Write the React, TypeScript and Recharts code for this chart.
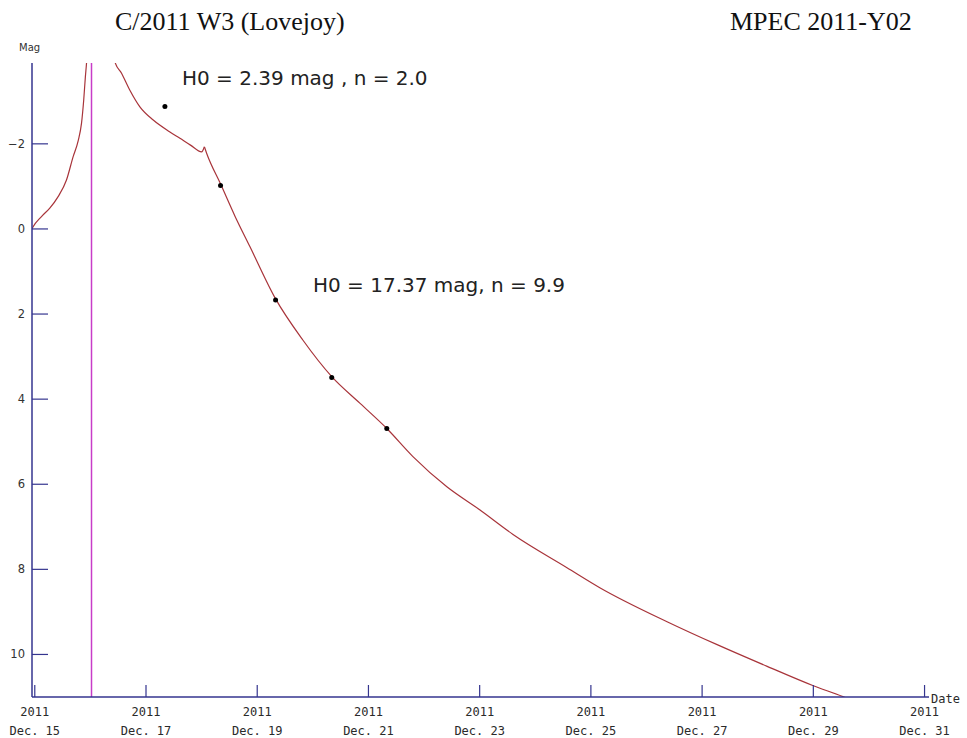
import React from "react";
import { ComposedChart, Line, Scatter, XAxis, YAxis, ReferenceLine } from "recharts";

// Fitted light curve before perihelion (date in Dec. 2011, magnitude)
const preDates = [14.95, 14.97, 15.12, 15.27, 15.42, 15.57, 15.69, 15.78, 15.84, 15.88, 15.91, 15.93, 15.95];
const preMags = [0.0, -0.05, -0.29, -0.49, -0.76, -1.15, -1.7, -2.07, -2.48, -3.03, -3.58, -3.89, -4.3];

// Fitted light curve after perihelion, first fit (up to the switch-over)
const postEarlyDates = [16.42, 16.44, 16.56, 16.71, 16.89, 17.13, 17.43, 17.61, 17.8, 18.0, 18.05];
const postEarlyMags = [-4.1, -3.93, -3.66, -3.26, -2.87, -2.56, -2.28, -2.13, -1.97, -1.81, -1.93];

// Fitted light curve after perihelion, second fit
const postLateDates = [18.05, 18.09, 18.35, 18.6, 18.87, 19.32, 19.82, 20.34, 20.85, 21.33, 21.8, 22.41, 23.0, 23.6, 24.57, 25.16, 26.37, 27.27, 28.17, 28.99, 29.53, 29.7];
const postLateMags = [-1.93, -1.78, -1.03, -0.3, 0.42, 1.62, 2.61, 3.47, 4.1, 4.69, 5.35, 6.06, 6.6, 7.18, 7.96, 8.43, 9.23, 9.77, 10.28, 10.73, 10.99, 11.08];

// Observations
const obsDates = [17.34, 18.34, 19.33, 20.34, 21.33];
const obsMags = [-2.88, -1.02, 1.67, 3.49, 4.69];

const perihelionDate = 16.02;

const xTicks = [15, 17, 19, 21, 23, 25, 27, 29, 31];
const xTickYears = ["2011", "2011", "2011", "2011", "2011", "2011", "2011", "2011", "2011"];
const xTickDays = ["Dec. 15", "Dec. 17", "Dec. 19", "Dec. 21", "Dec. 23", "Dec. 25", "Dec. 27", "Dec. 29", "Dec. 31"];
const yTicks = [-2, 0, 2, 4, 6, 8, 10];

const titleLeft = "C/2011 W3 (Lovejoy)";
const titleRight = "MPEC 2011-Y02";
const note1 = "H0 = 2.39 mag , n = 2.0";
const note2 = "H0 = 17.37 mag, n = 9.9";

const toPoints = (ds: number[], ms: number[]) => ds.map((d, i) => ({ x: d, y: ms[i] }));
const preData = toPoints(preDates, preMags);
const postEarlyData = toPoints(postEarlyDates, postEarlyMags);
const postLateData = toPoints(postLateDates, postLateMags);
const obsData = toPoints(obsDates, obsMags);

const W = 967;
const H = 738;
const M = { top: 63, right: 38, bottom: 0, left: 0 };
const Y_AXIS_W = 32;
const X_AXIS_H = 41;
const AXIS_X = Y_AXIS_W;
const AXIS_Y = H - X_AXIS_H;
const AXIS_COLOR = "#35358f";
const CURVE = "#a8343a";
const MONO = "'DejaVu Sans Mono', monospace";

const XTick = (props: any) => {
  const { payload, index } = props;
  const cx = payload.coordinate;
  return (
    <g>
      <line x1={cx} x2={cx} y1={AXIS_Y} y2={AXIS_Y - 12} stroke={AXIS_COLOR} strokeWidth={1.2} />
      <text x={cx} y={716} textAnchor="middle" fontFamily={MONO} fontSize={12} fill="#2a2a2a">
        {xTickYears[index]}
      </text>
      <text x={cx} y={735} textAnchor="middle" fontFamily={MONO} fontSize={12} fill="#2a2a2a">
        {xTickDays[index]}
      </text>
    </g>
  );
};

const YTick = (props: any) => {
  const { payload } = props;
  const cy = payload.coordinate;
  const label = payload.value < 0 ? "\u2212" + Math.abs(payload.value) : String(payload.value);
  return (
    <g>
      <line x1={AXIS_X} x2={AXIS_X + 16} y1={cy} y2={cy} stroke={AXIS_COLOR} strokeWidth={1.2} />
      <text x={25} y={cy + 4} textAnchor="end" fontFamily="'DejaVu Sans', sans-serif" fontSize={11.5} fill="#333">
        {label}
      </text>
    </g>
  );
};

const Dot = (props: any) => <circle cx={props.cx} cy={props.cy} r={2.5} fill="#000" />;

export default function App() {
  return (
    <div style={{ position: "absolute", left: 0, top: 0, width: W, height: H, background: "#fff" }}>
      <ComposedChart width={W} height={H} margin={M}>
        <XAxis
          dataKey="x"
          type="number"
          domain={[14.95, 31.08]}
          ticks={xTicks}
          interval={0}
          allowDataOverflow
          height={X_AXIS_H}
          axisLine={{ stroke: AXIS_COLOR, strokeWidth: 1.5 }}
          tickLine={false}
          tick={<XTick />}
        />
        <YAxis
          dataKey="y"
          type="number"
          domain={[-3.9, 11.0]}
          reversed
          ticks={yTicks}
          interval={0}
          allowDataOverflow
          width={Y_AXIS_W}
          axisLine={{ stroke: AXIS_COLOR, strokeWidth: 1.5 }}
          tickLine={false}
          tick={<YTick />}
        />
        <ReferenceLine x={perihelionDate} stroke="#c83cc8" strokeWidth={1.5} ifOverflow="hidden" />
        <Line data={preData} dataKey="y" type="monotone" stroke={CURVE} strokeWidth={1.2} dot={false} isAnimationActive={false} />
        <Line data={postEarlyData} dataKey="y" type="monotone" stroke={CURVE} strokeWidth={1.2} dot={false} isAnimationActive={false} />
        <Line data={postLateData} dataKey="y" type="monotone" stroke={CURVE} strokeWidth={1.2} dot={false} isAnimationActive={false} />
        <Scatter data={obsData} dataKey="y" shape={<Dot />} isAnimationActive={false} />
      </ComposedChart>
      <svg width={W} height={H} style={{ position: "absolute", left: 0, top: 0, pointerEvents: "none" }}>
        <text x={115} y={30} fontFamily="'Liberation Serif', serif" fontSize={26} fill="#111">{titleLeft}</text>
        <text x={730} y={30} fontFamily="'Liberation Serif', serif" fontSize={26} fill="#111">{titleRight}</text>
        <text x={19} y={51} fontFamily="'DejaVu Sans', sans-serif" fontSize={10} fill="#333">Mag</text>
        <text x={931} y={703} fontFamily={MONO} fontSize={12} fill="#2a2a2a">Date</text>
        <text x={182} y={85} fontFamily="'DejaVu Sans', sans-serif" fontSize={20} fill="#222">{note1}</text>
        <text x={313} y={292} fontFamily="'DejaVu Sans', sans-serif" fontSize={20} fill="#222">{note2}</text>
      </svg>
    </div>
  );
}
